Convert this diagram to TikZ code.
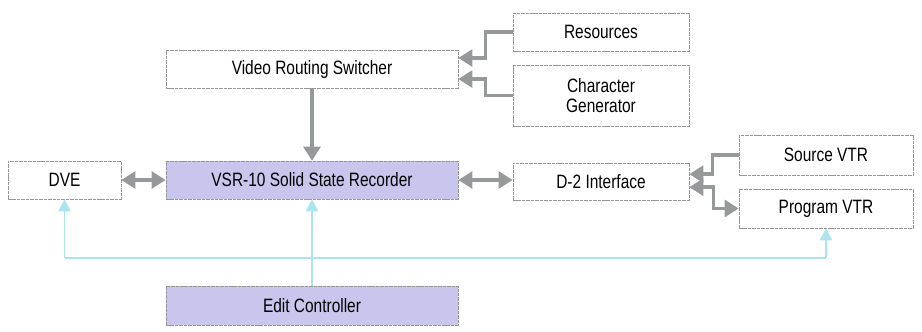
\documentclass[tikz,border=0pt]{standalone}
\usepackage{fontspec}
\setmainfont{Liberation Sans}[FakeStretch=0.8]
\usetikzlibrary{arrows.meta,calc}

\definecolor{boxline}{RGB}{150,150,150}
\definecolor{linkgray}{RGB}{150,153,153}
\definecolor{recfill}{RGB}{200,198,236}
\definecolor{ctrlcyan}{RGB}{170,228,236}

\tikzset{
  unit/.style={draw=boxline, line width=0.5pt, dash pattern=on 3pt off 0.8pt,
               fill=white, inner sep=0pt, align=center,
               font=\fontsize{16.5}{17}\selectfont},
  recorder/.style={unit, fill=recfill},
  link/.style={draw=linkgray, line width=3pt,
               -{Triangle[length=0.42cm,width=0.5cm]}},
  dlink/.style={link, {Triangle[length=0.42cm,width=0.5cm]}-{Triangle[length=0.42cm,width=0.5cm]}},
  ctrl/.style={draw=ctrlcyan, line width=1.6pt},
  ctrlarrow/.style={ctrl, -{Triangle[length=0.36cm,width=0.36cm]}}
}

\begin{document}
\begin{tikzpicture}[x=0.03cm, y=-0.03cm]
  \useasboundingbox (0,0) rectangle (922,331);

  % Units
  \node[unit, minimum width=8.76cm, minimum height=1.14cm] (vrs) at (312,69) {Video Routing Switcher};
  \node[unit, minimum width=5.28cm, minimum height=1.14cm] (res) at (601,32) {Resources};
  \node[unit, minimum width=5.28cm, minimum height=1.83cm] (chg) at (601,95.5) {Character\\Generator};
  \node[unit, minimum width=3.39cm, minimum height=1.14cm] (dve) at (64.5,180) {DVE};
  \node[recorder, minimum width=8.76cm, minimum height=1.14cm] (vsr) at (312,180) {VSR-10 Solid State Recorder};
  \node[unit, minimum width=5.28cm, minimum height=1.12cm] (dtwo) at (601,181.5) {D-2 Interface};
  \node[unit, minimum width=5.22cm, minimum height=1.2cm] (src) at (826,155) {Source VTR};
  \node[unit, minimum width=5.22cm, minimum height=1.17cm] (prg) at (826,208.5) {Program VTR};
  \node[recorder, minimum width=8.76cm, minimum height=1.17cm] (edit) at (312,305.5) {Edit Controller};

  % Video paths
  \draw[link] (vrs) -- (vsr);
  \draw[link] (res.west) -- ++(-27,0) |- ([yshift=0.33cm]vrs.east);
  \draw[link] (chg.west) -- ++(-27,0) |- ([yshift=-0.3cm]vrs.east);
  \draw[dlink] (dve) -- (vsr);
  \draw[dlink] (vsr.east) -- (vsr.east -| dtwo.west);
  \draw[link] (src.west) -- ++(-26,0) |- ([yshift=0.22cm]dtwo.east);
  \draw[dlink] ([yshift=-0.17cm]dtwo.east) -- ++(24,0) |- (prg.west);

  % Control bus
  \coordinate (busL) at (64.5,258);
  \coordinate (busR) at (826,258);
  \draw[ctrl] (busL) -- (busR);
  \draw[ctrlarrow] (edit) -- (vsr);
  \draw[ctrlarrow] (busL) -- (dve);
  \draw[ctrlarrow] (busR) -- (prg);

\end{tikzpicture}
\end{document}
